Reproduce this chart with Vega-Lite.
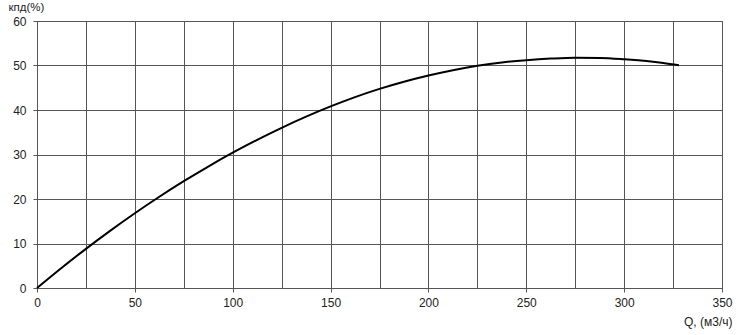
{
  "$schema": "https://vega.github.io/schema/vega-lite/v6.json",
  "width": 685,
  "height": 267,
  "autosize": {"type": "none"},
  "padding": {"left": 37, "top": 21, "right": 15, "bottom": 47},
  "background": "white",
  "config": {
    "view": {"stroke": "#555", "strokeWidth": 1},
    "font": "Liberation Sans"
  },
  "data": {
    "values": [
      {"q": 0, "eff": 0},
      {"q": 12.5, "eff": 4.5},
      {"q": 25, "eff": 8.8},
      {"q": 37.5, "eff": 12.9},
      {"q": 50, "eff": 16.8},
      {"q": 62.5, "eff": 20.5},
      {"q": 75, "eff": 24.0},
      {"q": 87.5, "eff": 27.3},
      {"q": 100, "eff": 30.4},
      {"q": 112.5, "eff": 33.3},
      {"q": 125, "eff": 36.0},
      {"q": 137.5, "eff": 38.5},
      {"q": 150, "eff": 40.8},
      {"q": 162.5, "eff": 42.9},
      {"q": 175, "eff": 44.75},
      {"q": 187.5, "eff": 46.35},
      {"q": 200, "eff": 47.75},
      {"q": 212.5, "eff": 48.95},
      {"q": 225, "eff": 49.95},
      {"q": 237.5, "eff": 50.7},
      {"q": 250, "eff": 51.2},
      {"q": 262.5, "eff": 51.55},
      {"q": 275, "eff": 51.75},
      {"q": 287.5, "eff": 51.7},
      {"q": 300, "eff": 51.4},
      {"q": 312.5, "eff": 50.95},
      {"q": 320, "eff": 50.55},
      {"q": 328, "eff": 50.05}
    ]
  },
  "mark": {"type": "line", "color": "black", "strokeWidth": 2, "interpolate": "monotone"},
  "encoding": {
    "x": {
      "field": "q",
      "type": "quantitative",
      "scale": {"domain": [0, 350], "nice": false, "zero": true},
      "axis": {
        "values": [0, 25, 50, 75, 100, 125, 150, 175, 200, 225, 250, 275, 300, 325, 350],
        "labelExpr": "datum.value % 50 === 0 ? datum.label : ''",
        "grid": true,
        "gridColor": "#555",
        "gridOpacity": 1,
        "gridWidth": 1,
        "domainColor": "#555",
        "tickColor": "#555",
        "tickSize": 4,
        "tickOpacity": {"condition": {"test": "datum.value % 50 === 0", "value": 1}, "value": 0},
        "labelFontSize": 12,
        "labelColor": "#222",
        "labelPadding": 5,
        "labelFlush": false,
        "title": "Q, (м3/ч)",
        "titleFontSize": 12,
        "titleFontWeight": "normal",
        "titleColor": "#222",
        "titleAlign": "right",
        "titleAnchor": null,
        "titleBaseline": "middle",
        "titleX": 695,
        "titleY": 33
      }
    },
    "y": {
      "field": "eff",
      "type": "quantitative",
      "scale": {"domain": [0, 60], "nice": false},
      "axis": {
        "values": [0, 10, 20, 30, 40, 50, 60],
        "grid": true,
        "gridColor": "#555",
        "gridOpacity": 1,
        "gridWidth": 1,
        "domainColor": "#555",
        "tickColor": "#555",
        "tickSize": 4,
        "labelFontSize": 12,
        "labelColor": "#222",
        "labelPadding": 7,
        "labelFlush": false,
        "title": "кпд(%)",
        "titleFontSize": 11.5,
        "titleFontWeight": "normal",
        "titleColor": "#222",
        "titleAngle": 0,
        "titleAlign": "left",
        "titleAnchor": null,
        "titleBaseline": "middle",
        "titleX": -29,
        "titleY": -14
      }
    }
  }
}
